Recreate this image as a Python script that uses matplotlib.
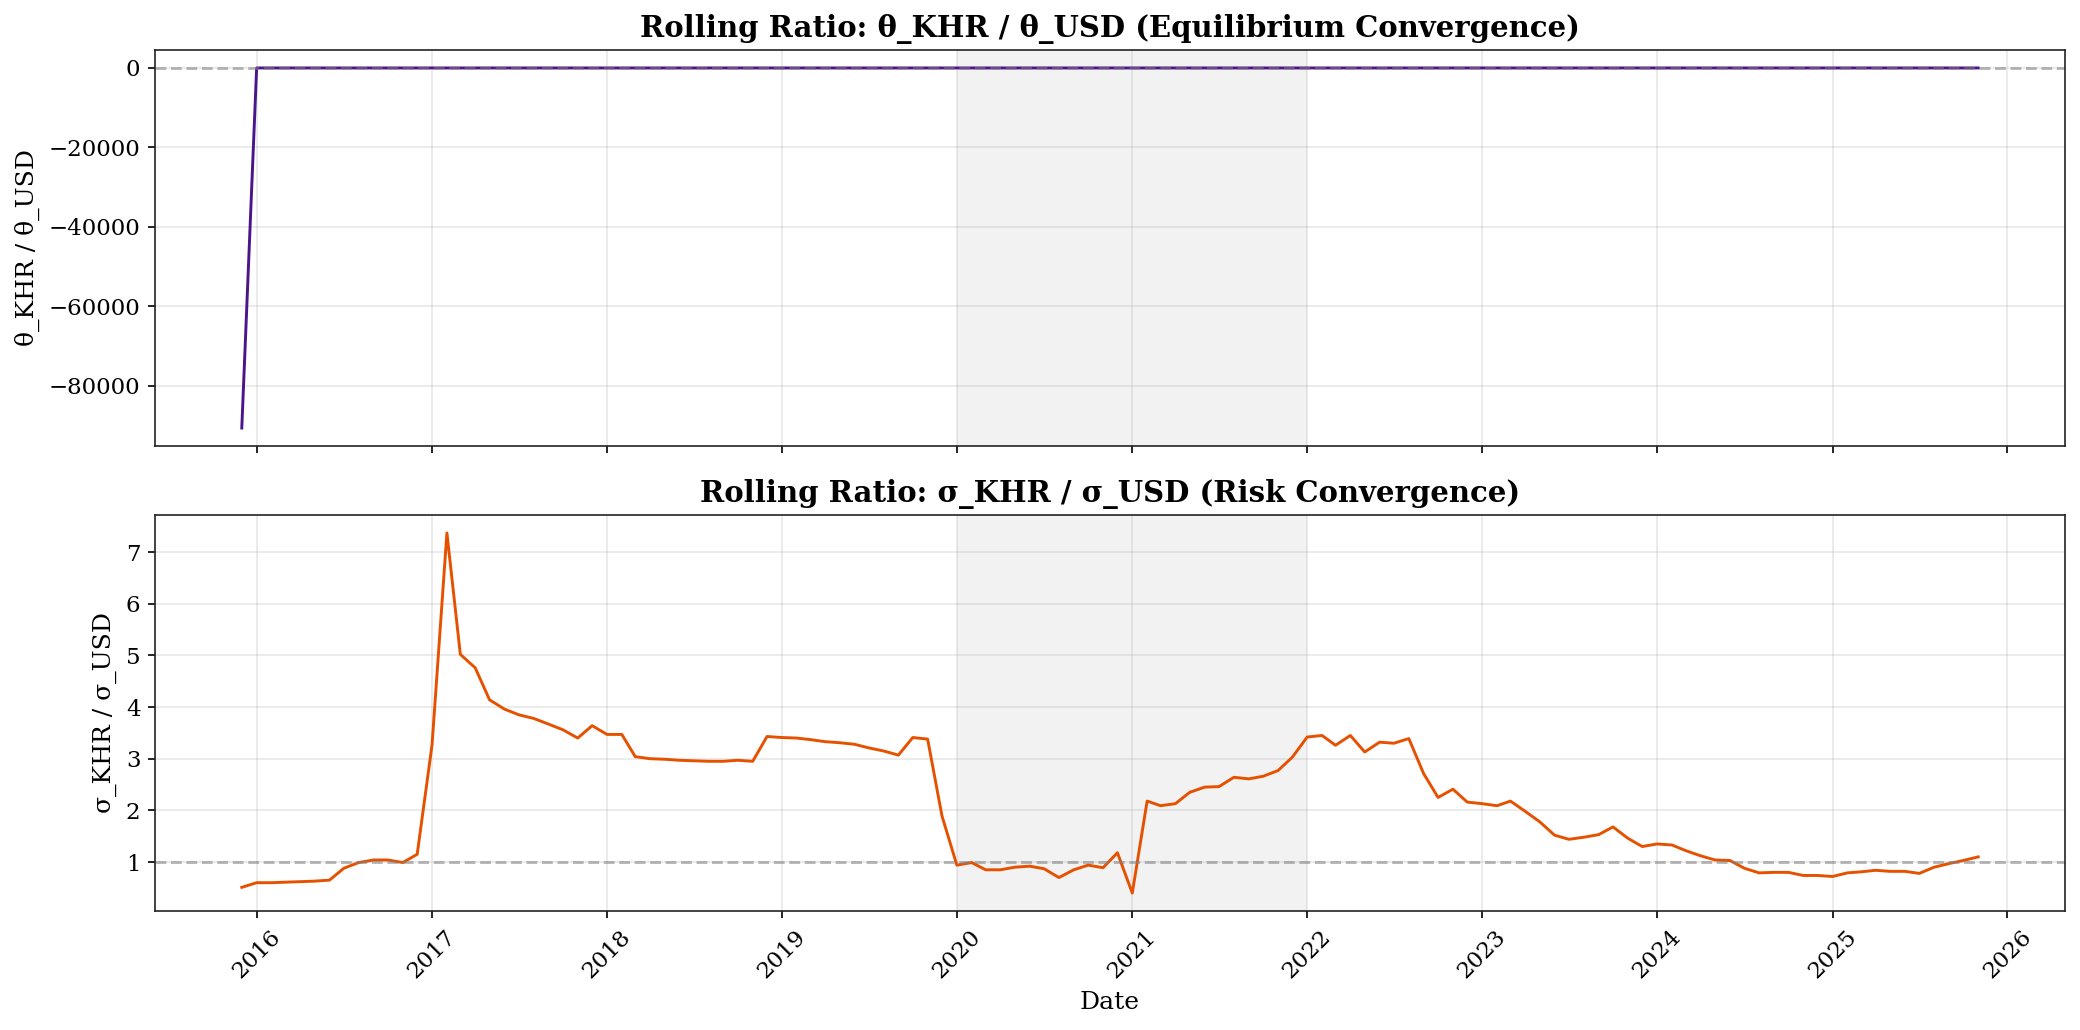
import matplotlib
matplotlib.use("Agg")
import matplotlib.pyplot as plt
import pandas as pd

plt.rcParams['font.family'] = ['DejaVu Serif']

start_month = "2015-12-01"
end_month = "2025-11-01"

theta_ratio = [
    -90700,
    1.0, 1.0, 1.0, 1.0, 1.0, 1.0, 1.0, 1.0, 1.0, 1.0, 1.0, 1.0,
    1.0, 1.0, 1.0, 1.0, 1.0, 1.0, 1.0, 1.0, 1.0, 1.0, 1.0, 1.0,
    1.0, 1.0, 1.0, 1.0, 1.0, 1.0, 1.0, 1.0, 1.0, 1.0, 1.0, 1.0,
    1.0, 1.0, 1.0, 1.0, 1.0, 1.0, 1.0, 1.0, 1.0, 1.0, 1.0, 1.0,
    1.0, 1.0, 1.0, 1.0, 1.0, 1.0, 1.0, 1.0, 1.0, 1.0, 1.0, 1.0,
    1.0, 1.0, 1.0, 1.0, 1.0, 1.0, 1.0, 1.0, 1.0, 1.0, 1.0, 1.0,
    1.0, 1.0, 1.0, 1.0, 1.0, 1.0, 1.0, 1.0, 1.0, 1.0, 1.0, 1.0,
    1.0, 1.0, 1.0, 1.0, 1.0, 1.0, 1.0, 1.0, 1.0, 1.0, 1.0, 1.0,
    1.0, 1.0, 1.0, 1.0, 1.0, 1.0, 1.0, 1.0, 1.0, 1.0, 1.0, 1.0,
    1.0, 1.0, 1.0, 1.0, 1.0, 1.0, 1.0, 1.0, 1.0, 1.0, 1.0,
]

sigma_ratio = [
    0.51,
    # 2016
    0.60, 0.60, 0.61, 0.62, 0.63, 0.65, 0.88, 0.99, 1.04, 1.04, 0.99, 1.15,
    # 2017
    3.27, 7.37, 5.02, 4.76, 4.14, 3.96, 3.85, 3.78, 3.67, 3.56, 3.40, 3.64,
    # 2018
    3.47, 3.47, 3.04, 3.00, 2.99, 2.97, 2.96, 2.95, 2.95, 2.97, 2.95, 3.43,
    # 2019
    3.41, 3.40, 3.37, 3.33, 3.31, 3.28, 3.21, 3.15, 3.07, 3.41, 3.38, 1.89,
    # 2020
    0.94, 0.99, 0.85, 0.85, 0.90, 0.92, 0.87, 0.70, 0.85, 0.94, 0.89, 1.18,
    # 2021
    0.40, 2.18, 2.09, 2.13, 2.35, 2.45, 2.46, 2.64, 2.61, 2.66, 2.77, 3.03,
    # 2022
    3.42, 3.45, 3.26, 3.45, 3.13, 3.32, 3.30, 3.39, 2.71, 2.25, 2.41, 2.16,
    # 2023
    2.13, 2.09, 2.18, 1.98, 1.78, 1.52, 1.44, 1.48, 1.53, 1.68, 1.46, 1.30,
    # 2024
    1.35, 1.33, 1.22, 1.12, 1.04, 1.03, 0.88, 0.79, 0.80, 0.80, 0.74, 0.74,
    # 2025
    0.72, 0.79, 0.81, 0.84, 0.82, 0.82, 0.78, 0.90, 0.97, 1.03, 1.10,
]

shade_start = "2020-01-01"
shade_end = "2022-01-01"

titles = [
    "Rolling Ratio: θ_KHR / θ_USD (Equilibrium Convergence)",
    "Rolling Ratio: σ_KHR / σ_USD (Risk Convergence)",
]
ylabels = ["θ_KHR / θ_USD", "σ_KHR / σ_USD"]

dates = pd.date_range(start_month, end_month, freq="MS")

fig, (ax1, ax2) = plt.subplots(2, 1, figsize=(2080/150, 1030/150), dpi=150, sharex=True)
fig.subplots_adjust(left=0.0745, right=0.9928, top=0.9515, bottom=0.1155, hspace=0.174)

ax1.plot(dates, theta_ratio, color="#4a148c", linewidth=1.4)
ax1.axhline(0, color="gray", linestyle="--", alpha=0.55, linewidth=1.4)
ax2.plot(dates, sigma_ratio, color="#e65100", linewidth=1.4)
ax2.axhline(1, color="gray", linestyle="--", alpha=0.55, linewidth=1.4)

for ax, t, yl in zip((ax1, ax2), titles, ylabels):
    ax.axvspan(pd.Timestamp(shade_start), pd.Timestamp(shade_end), color="gray", alpha=0.1, linewidth=0)
    ax.set_title(t, fontsize=14, fontweight="bold")
    ax.set_ylabel(yl, fontsize=12)
    ax.grid(True, alpha=0.3)
    ax.tick_params(labelsize=11)
    for s in ax.spines.values():
        s.set_color("#222222")

ax2.set_xlabel("Date", fontsize=12)
plt.setp(ax2.get_xticklabels(), rotation=45)

fig.savefig("out.png", dpi=150)
